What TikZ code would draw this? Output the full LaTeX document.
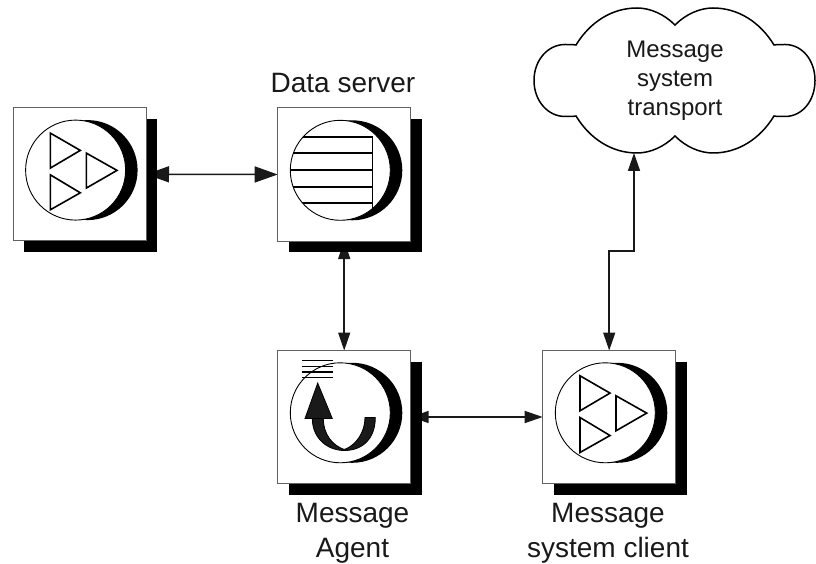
\documentclass[tikz,border=0pt]{standalone}
\usepackage{fontspec}
\setmainfont{Liberation Sans}
\usetikzlibrary{arrows.meta,backgrounds}
\definecolor{uglyblack}{HTML}{1A1A1A}
\tikzset{
  x=1pt,y=-1pt,
  boxnode/.style={draw=black!62,line width=1pt,fill=white,minimum size=133pt,inner sep=0pt,outer sep=0pt},
  shadownode/.style={fill=black,minimum size=133pt,inner sep=0pt,outer sep=0pt},
  conn/.style={line width=1.5pt,black!90},
  bigtips/.style={{Triangle[length=23pt,width=16pt]}-{Triangle[length=23pt,width=16pt]}},
  smalltips/.style={{Triangle[length=18pt,width=12pt]}-{Triangle[length=18pt,width=12pt]}},
  lab/.style={align=center,font=\fontsize{28}{35.5}\selectfont,text=black!90,inner sep=0pt},
  cloudlab/.style={align=center,font=\fontsize{24}{29}\selectfont,text=black!90,inner sep=0pt},
  moon/.pic={
    \fill[black] (74.6,62.3) circle[radius=50];
    \draw[fill=white,line width=0.9pt] (62.6,62.3) circle[radius=50];
  },
  triangles/.pic={
    \draw[line width=1.6pt,miter limit=10] (37.3,25.3) -- (37.3,60.3) -- (67.3,42.6) -- cycle;
    \draw[line width=1.6pt,miter limit=10] (73.3,45.3) -- (73.3,80.3) -- (104,62.6) -- cycle;
    \draw[line width=1.6pt,miter limit=10] (37.3,67) -- (37.3,102) -- (67.3,85) -- cycle;
  },
  stripes/.pic={
    \begin{scope}
      \clip (62.6,62.3) circle[radius=50];
      \foreach \yy in {28.8,45.2,62,78.8,95.2}
        \draw[line width=1.9pt] (0,\yy) -- (94.6,\yy);
      \draw[line width=1pt] (94.6,28) -- (94.6,102);
    \end{scope}
  },
  agenticon/.pic={
    \foreach \yy in {10,16,21.6,27}
      \draw[line width=1.6pt] (24.6,\yy) -- (55,\yy);
    \draw[fill=uglyblack,line width=0.8pt]
      (34.6,68) .. controls (34.6,88) and (50,100) .. (66.6,100)
      .. controls (85,100) and (97.6,88) .. (97.6,67)
      -- (87.3,67) .. controls (87.3,82) and (78,95) .. (66.6,99)
      .. controls (55,95) and (45.6,84) .. (45.6,68) -- cycle;
    \draw[fill=uglyblack,line width=0.8pt] (40,32.6) -- (27.3,68) -- (54.6,68) -- cycle;
  }
}
\begin{document}
\begin{tikzpicture}
\useasboundingbox (0,0) rectangle (816,564);
% box centres
\coordinate (c1) at (79.5,174.3);
\coordinate (c2) at (344.2,174.5);
\coordinate (c3) at (344.2,417);
\coordinate (c4) at (609.2,417);
% shadows and boxes
\foreach \n in {1,2,3,4}{
  \node[shadownode] (s\n) at ([shift={(11,11)}]c\n) {};
  \node[boxnode] (b\n) at (c\n) {};
}
% cloud
\draw[line width=1.5pt,fill=white]
  (576,45) .. controls (590,22) and (612,8) .. (637,8)
  .. controls (650,8) and (664,14) .. (675,25)
  .. controls (686,14) and (700,8) .. (713,8)
  .. controls (738,8) and (760,22) .. (774,45)
  .. controls (777,44.5) and (781,44.5) .. (785,44.5)
  .. controls (802,44.5) and (815,60) .. (815,80.5)
  .. controls (815,101) and (802,116.5) .. (785,116.5)
  .. controls (781,116.5) and (777,116.5) .. (774,116)
  .. controls (760,139) and (738,153) .. (713,153)
  .. controls (700,153) and (686,147) .. (675,136)
  .. controls (664,147) and (650,153) .. (637,153)
  .. controls (612,153) and (590,139) .. (576,116)
  .. controls (573,116.5) and (569,116.5) .. (565,116.5)
  .. controls (548,116.5) and (534,101) .. (534,80.5)
  .. controls (534,60) and (548,44.5) .. (565,44.5)
  .. controls (569,44.5) and (573,44.5) .. (576,45) -- cycle;
\node[cloudlab] (cloud) at (675,81) {Message\\system\\transport};
\coordinate (cloudport) at (634,153);
\coordinate (elbow) at (634,251);
% icons
\pic at (b1.north west) {moon};
\pic at (b1.north west) {triangles};
\pic at (b2.north west) {moon};
\pic at (b2.north west) {stripes};
\pic at (b3.north west) {moon};
\pic at (b3.north west) {agenticon};
\pic at (b4.north west) {moon};
\pic at (b4.north west) {triangles};
% connectors behind the shadows
\begin{scope}[on background layer]
  \draw[conn,bigtips] (b1.east) -- (b2.west);
  \draw[conn,smalltips] (b2.south) -- (b3.north);
  \draw[conn,smalltips] (b3.east) -- (b4.west);
  \draw[conn,smalltips] (b4.north) |- (elbow) -- (cloudport);
\end{scope}
% labels
\node[lab] (l2) at (343,83) {Data server};
\node[lab] (l3) at (352.5,533.5) {Message\\Agent};
\node[lab] (l4) at (608,533.5) {Message\\system client};
\end{tikzpicture}
\end{document}
